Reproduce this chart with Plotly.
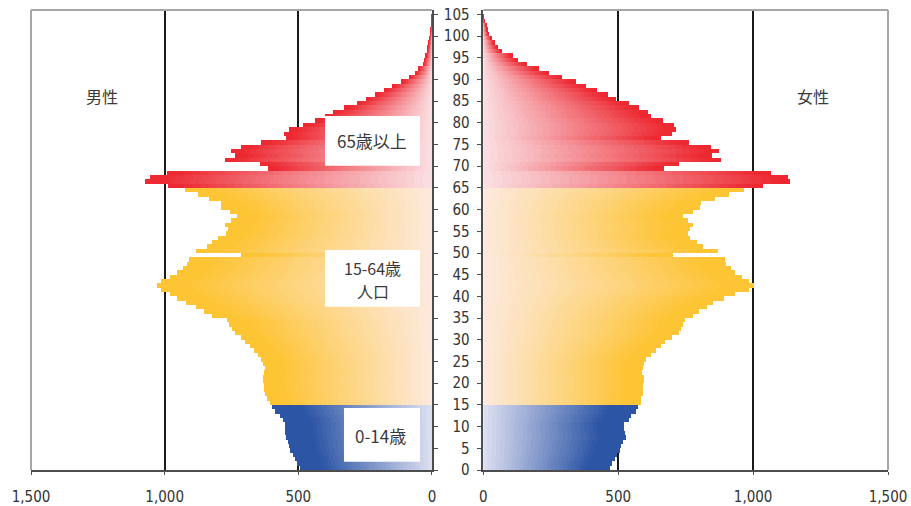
import plotly.graph_objects as go

# ---------------- data (thousands of persons, by single year of age) ----------------
ages = list(range(0, 105))

male = [495, 505, 513, 521, 530, 536, 540, 545, 551, 549,
        549, 557, 570, 586, 598, 607, 617, 623, 627, 629,
        632, 632, 629, 625, 632, 639, 652, 667, 682, 698,
        716, 738, 748, 758, 768, 822, 853, 884, 922, 955,
        980, 1012, 1030, 1012, 980, 955, 930, 915, 909, 714,
        881, 843, 822, 801, 772, 764, 776, 751, 731, 756,
        788, 791, 835, 876, 924, 988, 1075, 1055, 993, 612,
        645, 776, 736, 751, 716, 638, 547, 552, 534, 484,
        436, 402, 370, 328, 280, 246, 213, 178, 149, 115,
        86, 63, 51, 33, 29, 23, 18, 16, 13, 10,
        7, 5, 3, 2, 1]

female = [472, 477, 490, 498, 509, 511, 518, 529, 525, 522,
          522, 540, 548, 566, 573, 584, 586, 593, 594, 594,
          598, 597, 588, 594, 597, 606, 622, 643, 660, 676,
          702, 725, 735, 740, 748, 778, 800, 830, 852, 893,
          933, 985, 1005, 985, 959, 933, 919, 900, 897, 704,
          870, 815, 795, 767, 758, 767, 778, 758, 741, 778,
          803, 807, 859, 911, 966, 1036, 1138, 1129, 1066, 670,
          726, 882, 848, 874, 845, 762, 659, 700, 715, 707,
          667, 622, 611, 577, 540, 492, 463, 422, 380, 343,
          294, 244, 207, 161, 128, 109, 68, 53, 43, 31,
          21, 16, 12, 5, 2]

x_tickvals = [0, 500, 1000, 1500]
x_ticktext = ["0", "500", "1,000", "1,500"]
y_tickvals = list(range(0, 106, 5))

sex_labels = ["男性", "女性"]
group_labels = ["0-14歳", "15-64歳", "人口", "65歳以上"]

# ---------------- styles ----------------
GRAD = {
    "young": ((222, 224, 241), (44, 85, 166), 0.82),
    "work": ((253, 233, 222), (253, 196, 52), 0.90),
    "old": ((250, 224, 228), (237, 40, 48), 0.96),
}


def group(a):
    if a < 15:
        return "young"
    if a < 65:
        return "work"
    return "old"


def color_at(g, t):
    c0, c1, reach = GRAD[g]
    u = min(1.0, t / reach)
    r, gg, b = (round(c0[i] + (c1[i] - c0[i]) * u) for i in range(3))
    return f"rgb({r},{gg},{b})"


K = 32  # gradient segments per bar
ycent = [a + 0.5 for a in ages]

fig = go.Figure()
for side, vals, xa, ya in (("m", male, "x", "y"), ("f", female, "x2", "y2")):
    for k in range(K):
        t = (k + 0.5) / K
        fig.add_trace(go.Bar(
            y=ycent, x=[v / K for v in vals], orientation="h",
            width=1.0,
            marker=dict(color=[color_at(group(a), t) for a in ages],
                        line=dict(width=0)),
            xaxis=xa, yaxis=ya, hoverinfo="skip", showlegend=False,
        ))

TICKFONT = dict(family="DejaVu Sans Condensed, DejaVu Sans", size=15, color="#333333")
YFONT = dict(family="DejaVu Sans Condensed, DejaVu Sans", size=15, color="#333333")
GRID = "#1a1a1a"
AXL = "#4d4d4d"
FRAME = "#a6a6a6"

LEFT_DOM = [0.0, 0.4679]
RIGHT_DOM = [0.5278, 1.0]

common_x = dict(tickvals=x_tickvals, ticktext=x_ticktext, tickfont=TICKFONT,
                showgrid=True, gridcolor=GRID, gridwidth=1.6, zeroline=False,
                showline=True, linecolor=AXL, linewidth=1.5, automargin=False,
                ticks="outside", ticklen=3, tickcolor=AXL, ticklabelstandoff=9)
common_y = dict(domain=[0, 1], range=[0, 106], tickvals=y_tickvals,
                showgrid=False, zeroline=False, automargin=False,
                showline=True, linecolor=AXL, linewidth=1.5,
                ticks="outside", tickcolor=AXL)

fig.update_layout(
    width=911, height=506,
    margin=dict(l=31, r=23, t=10, b=36, autoexpand=False),
    paper_bgcolor="white", plot_bgcolor="white",
    barmode="stack", bargap=0,
    xaxis=dict(domain=LEFT_DOM, range=[1500, 0], anchor="y", **common_x),
    yaxis=dict(anchor="x", side="right", showticklabels=False, ticklen=4, **common_y),
    xaxis2=dict(domain=RIGHT_DOM, range=[0, 1500], anchor="y2", **common_x),
    yaxis2=dict(anchor="x2", side="left", tickfont=YFONT, ticklen=5,
                ticklabelstandoff=4, **common_y),
)

shapes = []
# outer gray frame (top + outer side of each panel)
for xr, yr, xs in (("x domain", "y domain", 0), ("x2 domain", "y2 domain", 1)):
    shapes.append(dict(type="line", xref=xr, yref=yr, x0=0, x1=1, y0=1, y1=1,
                       line=dict(color=FRAME, width=2), layer="above"))
    shapes.append(dict(type="line", xref=xr, yref=yr, x0=xs, x1=xs, y0=0, y1=1,
                       line=dict(color=FRAME, width=2), layer="above"))

# white label boxes
boxes = [(0.3431, 0.4539, 0.6615, 0.7696),
         (0.3431, 0.4539, 0.3550, 0.4783),
         (0.3652, 0.4539, 0.0180, 0.1348)]
for x0, x1, y0, y1 in boxes:
    shapes.append(dict(type="rect", xref="paper", yref="paper",
                       x0=x0, x1=x1, y0=y0, y1=y1,
                       fillcolor="white", line=dict(width=0), layer="above"))
fig.update_layout(shapes=shapes)

JP = "Noto Sans CJK JP"
ann = [
    dict(text=sex_labels[0], x=0.0825, y=0.813, size=16),
    dict(text=sex_labels[1], x=0.9122, y=0.812, size=16),
    dict(text=group_labels[3], x=0.3979, y=0.716, size=17),
    dict(text=group_labels[1], x=0.399, y=0.4385, size=16),
    dict(text=group_labels[2], x=0.399, y=0.3898, size=16),
    dict(text=group_labels[0], x=0.4084, y=0.076, size=17),
]
fig.update_layout(annotations=[
    dict(text=a["text"], x=a["x"], y=a["y"], xref="paper", yref="paper",
         xanchor="center", yanchor="middle", showarrow=False,
         font=dict(family=JP, size=a["size"], color="#3a3a3a"))
    for a in ann
])

fig.write_html("out.html",
               config={"displayModeBar": False},
               post_script="document.body.style.margin='0';document.body.style.padding='0';")
